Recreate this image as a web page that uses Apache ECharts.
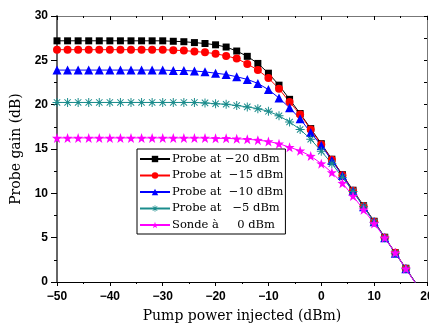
<!DOCTYPE html>
<html>
<head>
<meta charset="utf-8">
<script src="https://cdn.jsdelivr.net/npm/echarts@6/dist/echarts.min.js"></script>
<style>
  html, body { margin: 0; padding: 0; background: #fff; }
  #chart { width: 429px; height: 325px; }
</style>
</head>
<body>
<div id="chart"></div>
<script>
const pumpPower = [-50, -48, -46, -44, -42, -40, -38, -36, -34, -32, -30, -28, -26, -24, -22, -20, -18,
  -16, -14, -12, -10, -8, -6, -4, -2, 0, 2, 4, 6, 8, 10, 12, 14, 16, 18]

const probe20 = [27.2, 27.2, 27.2, 27.2, 27.2, 27.2, 27.2, 27.2, 27.2, 27.2, 27.2, 27.15, 27.1, 27.0, 26.9, 26.75, 26.5,
  26.05, 25.45, 24.65, 23.55, 22.2, 20.6, 19.0, 17.3, 15.6, 13.85, 12.1, 10.35, 8.6, 6.85, 5.05, 3.3, 1.55, -0.2]
const probe15 = [26.2, 26.2, 26.2, 26.2, 26.2, 26.2, 26.2, 26.2, 26.2, 26.2, 26.2, 26.15, 26.1, 26.0, 25.9, 25.75, 25.5,
  25.2, 24.6, 23.9, 23.0, 21.8, 20.3, 18.9, 17.2, 15.5, 13.8, 12.05, 10.3, 8.55, 6.8, 5.0, 3.3, 1.5, -0.25]
const probe10 = [23.9, 23.9, 23.9, 23.9, 23.9, 23.9, 23.9, 23.9, 23.9, 23.9, 23.9, 23.85, 23.85, 23.8, 23.7, 23.55, 23.4,
  23.15, 22.85, 22.4, 21.7, 20.75, 19.65, 18.4, 16.85, 15.4, 13.7, 12.0, 10.25, 8.5, 6.8, 5.0, 3.25, 1.5, -0.25]
const probe5 = [20.25, 20.25, 20.25, 20.25, 20.25, 20.25, 20.25, 20.25, 20.25, 20.25, 20.25, 20.25, 20.25, 20.25, 20.2, 20.1, 20.05,
  19.9, 19.75, 19.55, 19.25, 18.75, 18.05, 17.2, 16.1, 14.75, 13.35, 11.8, 10.2, 8.5, 6.75, 5.0, 3.25, 1.5, -0.25]
const probe0 = [16.25, 16.25, 16.25, 16.25, 16.25, 16.25, 16.25, 16.25, 16.25, 16.25, 16.25, 16.25, 16.25, 16.25, 16.25, 16.2, 16.2,
  16.15, 16.1, 16.0, 15.85, 15.6, 15.2, 14.8, 14.2, 13.35, 12.35, 11.15, 9.7, 8.15, 6.6, 5.0, 3.3, 1.5, -0.3]

const seriesNames = ['Probe at \u221220 dBm', 'Probe at  \u221215 dBm', 'Probe at  \u221210 dBm',
  'Probe at   \u22125 dBm', 'Sonde \u00e0     0 dBm']

// marker shapes
const starPath = (() => {
  const pts = []
  for (let i = 0; i < 10; i++) {
    const r = i % 2 === 0 ? 10 : 4
    const a = -Math.PI / 2 + i * Math.PI / 5
    pts.push((10 + r * Math.cos(a)).toFixed(2) + ' ' + (10 + r * Math.sin(a)).toFixed(2))
  }
  return 'path://M' + pts.join(' L') + ' Z'
})()
const asteriskPath = (() => {
  let d = ''
  for (let k = 0; k < 4; k++) {
    const a = k * Math.PI / 4
    const c = Math.cos(a), s = Math.sin(a), w = 1.1
    const p = [[-10, -w], [10, -w], [10, w], [-10, w]].map(([x, y]) =>
      (10 + x * c - y * s).toFixed(2) + ' ' + (10 + x * s + y * c).toFixed(2))
    d += 'M' + p.join(' L') + ' Z '
  }
  return 'path://' + d
})()

const COLORS = ['#000000', '#ff0000', '#0000ff', '#1a8c8c', '#ff00ff']
const SYMBOLS = ['rect', 'circle', 'triangle', asteriskPath, starPath]
const SIZES = [7, 8, 9, 9, 10]
const VALUES = [probe20, probe15, probe10, probe5, probe0]

const minus = (v) => String(v).replace('-', '\u2212')
const tickFont = { fontFamily: 'Liberation Sans', fontWeight: 'bold', fontSize: 12, color: '#000' }
const nameFont = { fontFamily: 'DejaVu Serif', fontSize: 14, color: '#000' }

const chart = echarts.init(document.getElementById('chart'), null, { renderer: 'canvas' })

chart.setOption({
  animation: false,
  grid: { left: 57, right: 2, top: 16, bottom: 43, containLabel: false, outerBoundsMode: 'none' },
  legend: {
    orient: 'vertical',
    left: 137,
    top: 149,
    itemWidth: 30,
    itemHeight: 8,
    itemGap: 4.5,
    padding: [4, 2, 3, 2],
    borderColor: '#000',
    borderWidth: 1,
    backgroundColor: '#fff',
    textStyle: { fontFamily: 'DejaVu Serif', fontSize: 11.5, color: '#000', padding: [0, 0, 0, -3] },
    data: seriesNames
  },
  xAxis: [
    {
      type: 'value', min: -50, max: 20, interval: 10, position: 'bottom',
      name: 'Pump power injected (dBm)', nameLocation: 'middle', nameGap: 27, nameTextStyle: nameFont,
      axisLine: { onZero: false, lineStyle: { color: '#000', width: 1 } },
      axisTick: { inside: false, length: 4, lineStyle: { color: '#000' } },
      minorTick: { show: true, splitNumber: 2, length: 2, lineStyle: { color: '#000' } },
      axisLabel: Object.assign({ margin: 9, formatter: minus }, tickFont),
      splitLine: { show: false }
    },
    {
      type: 'value', min: -50, max: 20, interval: 10, position: 'top',
      axisLine: { onZero: false, lineStyle: { color: '#777', width: 1 } },
      axisTick: { inside: true, length: 4, lineStyle: { color: '#000' } },
      minorTick: { show: true, splitNumber: 2, length: 2, lineStyle: { color: '#000' } },
      axisLabel: { show: false },
      splitLine: { show: false }
    }
  ],
  yAxis: [
    {
      type: 'value', min: 0, max: 30, interval: 5, position: 'left',
      name: 'Probe gain (dB)', nameLocation: 'middle', nameGap: 29, nameTextStyle: nameFont,
      axisLine: { onZero: false, lineStyle: { color: '#666', width: 2 } },
      axisTick: { inside: false, length: 6, lineStyle: { color: '#000' } },
      minorTick: { show: true, splitNumber: 2, length: 3, lineStyle: { color: '#000' } },
      axisLabel: Object.assign({ margin: 9 }, tickFont),
      splitLine: { show: false }
    },
    {
      type: 'value', min: 0, max: 30, interval: 5, position: 'right',
      axisLine: { onZero: false, lineStyle: { color: '#777', width: 1 } },
      axisTick: { inside: true, length: 3, lineStyle: { color: '#000' } },
      minorTick: { show: true, splitNumber: 2, length: 3, lineStyle: { color: '#000' } },
      axisLabel: { show: false },
      splitLine: { show: false }
    }
  ],
  series: VALUES.map((vals, i) => ({
    name: seriesNames[i],
    type: 'line',
    xAxisIndex: 0,
    yAxisIndex: 0,
    data: pumpPower.map((x, j) => [x, vals[j]]),
    symbol: SYMBOLS[i],
    symbolSize: SIZES[i],
    showAllSymbol: true,
    clip: true,
    itemStyle: { color: COLORS[i] },
    lineStyle: { color: COLORS[i], width: 1 }
  }))
})
</script>
</body>
</html>
